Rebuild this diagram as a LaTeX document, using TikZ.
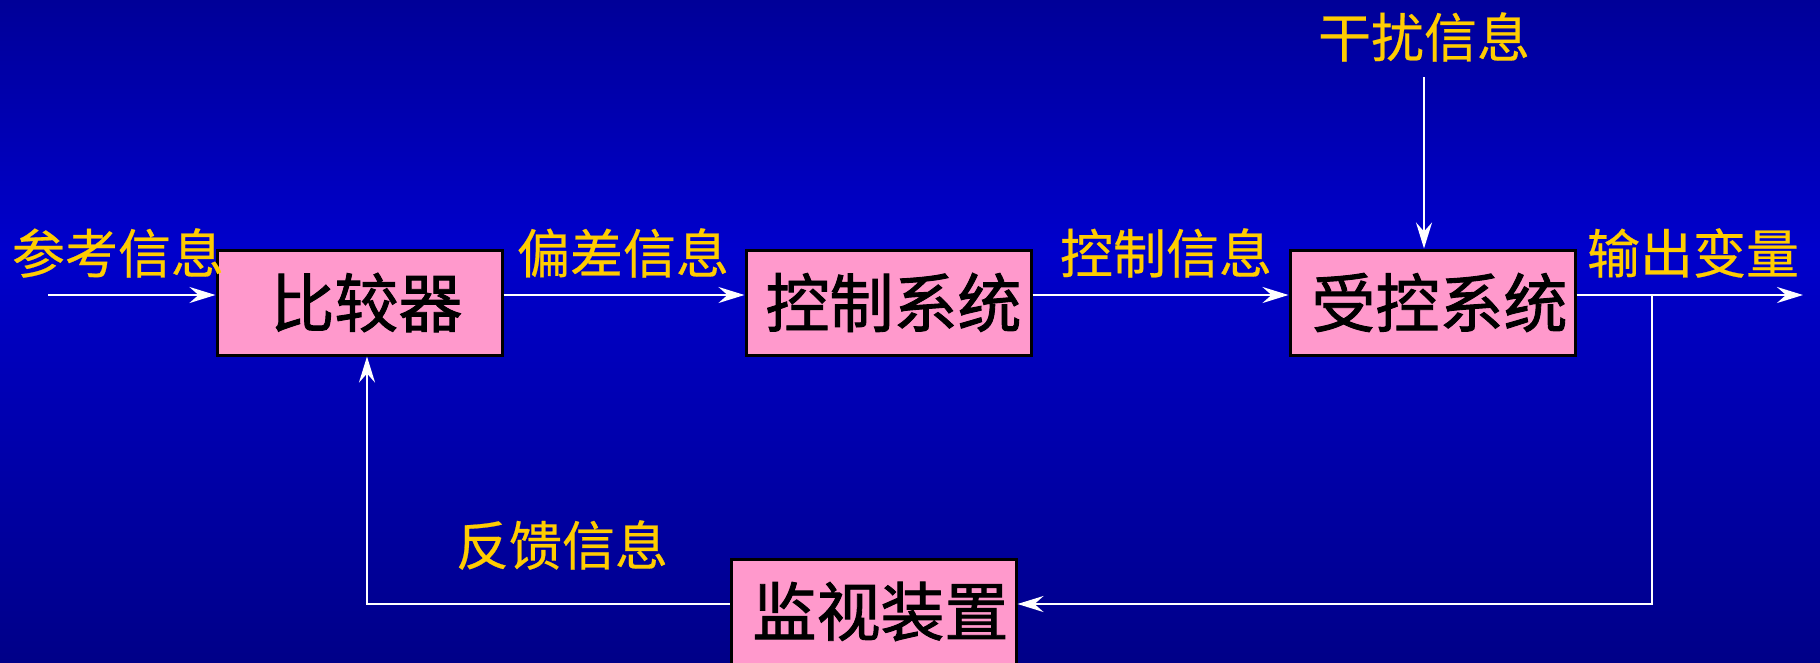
\documentclass[tikz,border=0pt]{standalone}
\usepackage{fontspec}
\newfontfamily\cjk{Noto Sans CJK SC}[FakeBold=0.4]
\newfontfamily\cjkb{Noto Sans CJK SC}[FakeBold=1.4]
\usetikzlibrary{arrows.meta}
\definecolor{bgtop}{RGB}{0,0,152}
\definecolor{bgmid}{RGB}{0,0,204}
\definecolor{bgbot}{RGB}{0,0,136}
\definecolor{boxpink}{RGB}{255,153,204}
\definecolor{labyellow}{RGB}{255,204,0}
\tikzset{
  blk/.style={draw=black, line width=3pt, fill=boxpink, minimum width=285pt, minimum height=105pt,
    inner sep=0pt, font=\cjkb\fontsize{64}{64}\selectfont, text=black},
  lab/.style={inner sep=0pt, font=\cjk\fontsize{53}{53}\selectfont, text=labyellow},
  sig/.style={draw=white, line width=2.7pt, -{Stealth[length=26pt,width=16pt,inset=9pt]}},
  wire/.style={draw=white, line width=2.7pt}
}
\begin{document}
\begin{tikzpicture}[x=1pt,y=-1pt]
\useasboundingbox (0,0) rectangle (1820,662);
\clip (0,0) rectangle (1820,662);
\shade[top color=bgtop, bottom color=bgmid] (0,0) rectangle (1820,250);
\shade[top color=bgmid, bottom color=bgbot] (0,249) rectangle (1820,662);

\node[blk] (cmp) at (359.5,302.5) {\hspace*{14pt}比较器};
\node[blk] (ctl) at (888.5,302.5) {\hspace*{10pt}控制系统};
\node[blk] (plant) at (1432.5,302.5) {\hspace*{14pt}受控系统};
\node[blk] (mon) at (873.5,611.5) {\hspace*{14pt}监视装置};

\coordinate (ly) at (0,295);
\coordinate (in) at (48,295);
\coordinate (out) at (1803,295);
\coordinate (br) at (1652,295);
\coordinate (brd) at (1652,604);
\coordinate (fb) at (367,604);
\coordinate (dt) at (1424,77);

\node[lab] (l1) at (118,253) {参考信息};
\node[lab] (l2) at (623,253) {偏差信息};
\node[lab] (l3) at (1166,253) {控制信息};
\node[lab] (l4) at (1693,253) {输出变量};
\node[lab] (l5) at (1424,37) {干扰信息};
\node[lab] (l6) at (562,545) {反馈信息};

\draw[sig] (in) -- (in -| cmp.west);
\draw[sig] (cmp.east |- ly) -- (ctl.west |- ly);
\draw[sig] (ctl.east |- ly) -- (plant.west |- ly);
\draw[sig] (plant.east |- ly) -- (out);
\draw[sig] (dt) -- (dt |- plant.north);
\draw[sig] (br) -- (brd) -- (brd -| mon.east);
\draw[sig] (mon.west |- fb) -- (fb) -- (fb |- cmp.south);
\end{tikzpicture}
\end{document}
